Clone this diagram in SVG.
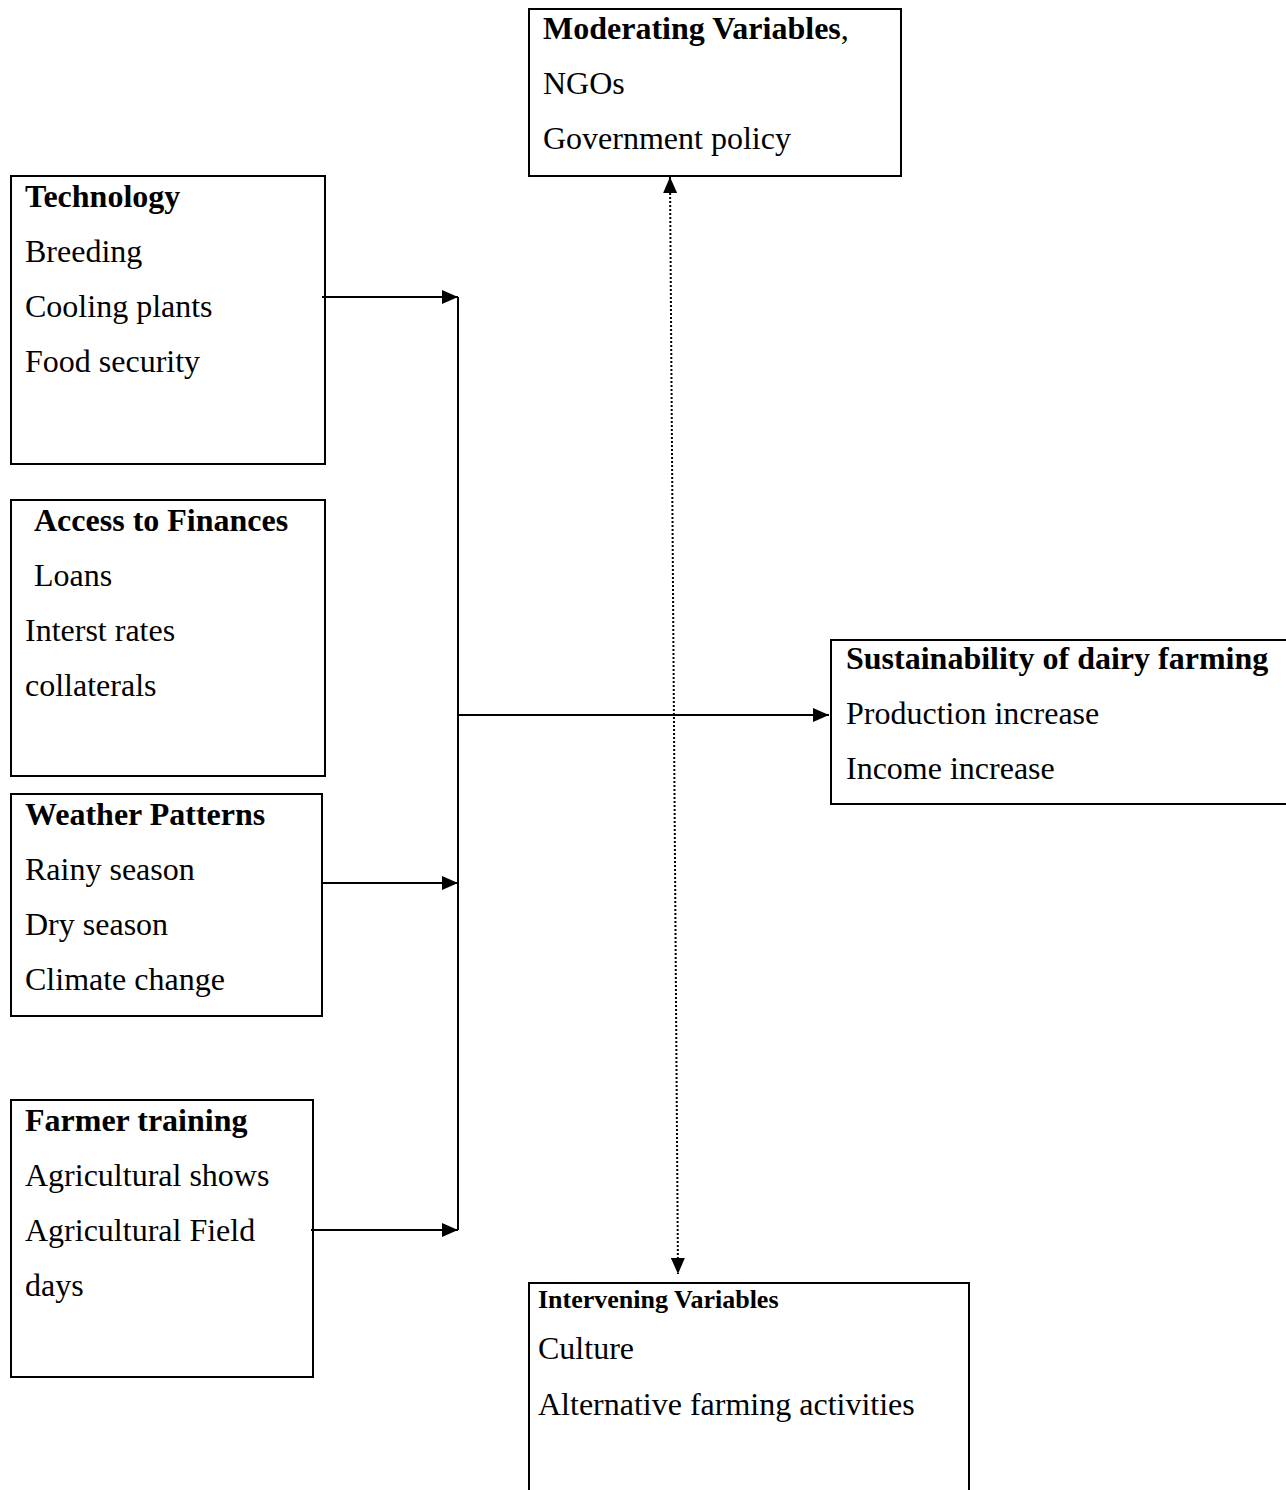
<svg xmlns="http://www.w3.org/2000/svg" width="1286" height="1490" viewBox="0 0 1286 1490">
<style>
.box{fill:#fff;stroke:#000;stroke-width:2}
text{font-family:"Liberation Serif","Times New Roman",serif;font-size:32px;fill:#000}
.b{font-weight:bold}
.ln{stroke:#000;stroke-width:2;fill:none}
.dot{stroke:#000;stroke-width:2;fill:none;stroke-dasharray:2,2}
</style>
<defs>
<marker id="ah" viewBox="0 0 16 14" refX="16" refY="7" markerWidth="16" markerHeight="14" markerUnits="userSpaceOnUse" orient="auto">
<path d="M0,0 L16,7 L0,14 z" fill="#000"/>
</marker>
<marker id="ahs" viewBox="0 0 16 14" refX="16" refY="7" markerWidth="16" markerHeight="14" markerUnits="userSpaceOnUse" orient="auto-start-reverse">
<path d="M0,0 L16,7 L0,14 z" fill="#000"/>
</marker>
</defs>
<g id="moderating">
<rect class="box" x="529" y="9" width="372" height="167"/>
<text x="543" y="39"><tspan class="b">Moderating Variables</tspan>,</text>
<text x="543" y="94">NGOs</text>
<text x="543" y="149">Government policy</text>
</g>
<g id="technology">
<rect class="box" x="11" y="176" width="314" height="288"/>
<text class="b" x="25" y="207">Technology</text>
<text x="25" y="262">Breeding</text>
<text x="25" y="317">Cooling plants</text>
<text x="25" y="372">Food security</text>
</g>
<g id="finances">
<rect class="box" x="11" y="500" width="314" height="276"/>
<text class="b" x="34" y="531">Access to Finances</text>
<text x="34" y="586">Loans</text>
<text x="25" y="641">Interst rates</text>
<text x="25" y="696">collaterals</text>
</g>
<g id="weather">
<rect class="box" x="11" y="794" width="311" height="222"/>
<text class="b" x="25" y="825">Weather Patterns</text>
<text x="25" y="880">Rainy season</text>
<text x="25" y="935">Dry season</text>
<text x="25" y="990">Climate change</text>
</g>
<g id="training">
<rect class="box" x="11" y="1100" width="302" height="277"/>
<text class="b" x="25" y="1131">Farmer training</text>
<text x="25" y="1186">Agricultural shows</text>
<text x="25" y="1241">Agricultural Field</text>
<text x="25" y="1296">days</text>
</g>
<g id="sustainability">
<rect class="box" x="831" y="640" width="470" height="164"/>
<text class="b" x="846" y="669">Sustainability of dairy farming</text>
<text x="846" y="724">Production increase</text>
<text x="846" y="779">Income increase</text>
</g>
<g id="intervening">
<rect class="box" x="529" y="1283" width="440" height="230"/>
<text class="b" x="538" y="1308" style="font-size:26px">Intervening Variables</text>
<text x="538" y="1359">Culture</text>
<text x="538" y="1415">Alternative farming activities</text>
</g>
<g id="connectors">
<line class="ln" x1="458" y1="297" x2="458" y2="1230"/>
<line class="ln" x1="322" y1="297" x2="458" y2="297" marker-end="url(#ah)"/>
<line class="ln" x1="322" y1="883" x2="458" y2="883" marker-end="url(#ah)"/>
<line class="ln" x1="311" y1="1230" x2="458" y2="1230" marker-end="url(#ah)"/>
<line class="ln" x1="458" y1="715" x2="829" y2="715" marker-end="url(#ah)"/>
<line class="dot" x1="670" y1="177" x2="678" y2="1274" marker-start="url(#ahs)" marker-end="url(#ahs)"/>
</g>
</svg>
